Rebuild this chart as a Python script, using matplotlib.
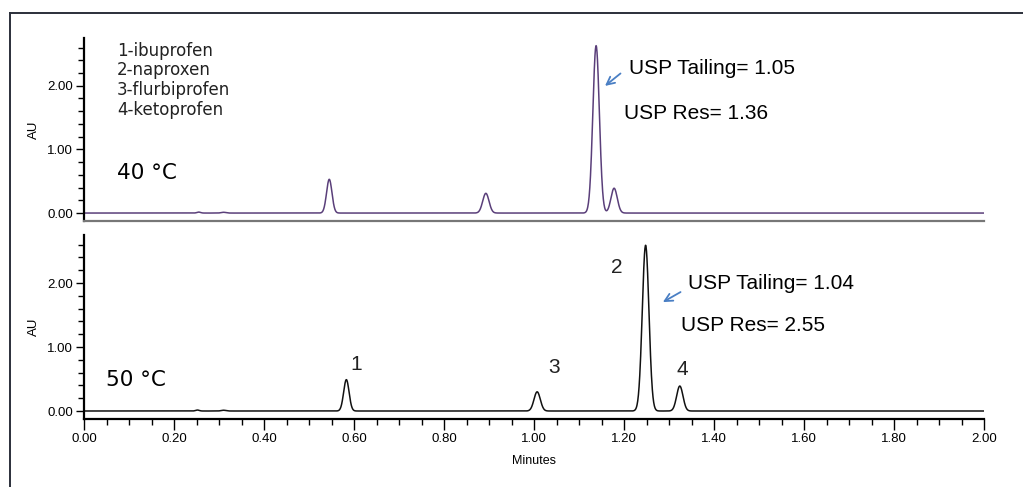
import numpy as np
import matplotlib
matplotlib.use("Agg")
import matplotlib.pyplot as plt
from matplotlib.ticker import MultipleLocator, FormatStrFormatter

# peak tables: retention time (min), height (AU), sigma (min)
rt_40 = [0.255, 0.31, 0.545, 0.893, 1.138, 1.178]
height_40 = [0.015, 0.012, 0.53, 0.31, 2.63, 0.39]
sigma_40 = [0.004, 0.005, 0.006, 0.007, 0.0072, 0.007]

rt_50 = [0.252, 0.31, 0.583, 1.007, 1.248, 1.324]
height_50 = [0.015, 0.012, 0.49, 0.30, 2.59, 0.39]
sigma_50 = [0.004, 0.005, 0.006, 0.007, 0.0074, 0.007]

compounds = ["1-ibuprofen", "2-naproxen", "3-flurbiprofen", "4-ketoprofen"]
peak_ids = ["1", "3", "2", "4"]
tailing_40, res_40 = 1.05, 1.36
tailing_50, res_50 = 1.04, 2.55

t = np.linspace(0, 2.0, 4001)


def trace(rts, heights, sigmas):
    y = np.zeros_like(t)
    for r, h, s in zip(rts, heights, sigmas):
        y += h * np.exp(-0.5 * ((t - r) / s) ** 2)
    return y


fig = plt.figure(figsize=(10.23, 4.87), dpi=100)
plt.rcParams['font.family'] = ['Liberation Sans', 'DejaVu Sans']

# outer frame (only top and left edges fall inside the image)
fig.add_artist(plt.Line2D([10 / 1023, 10 / 1023], [0, 1 - 13 / 487],
                          transform=fig.transFigure, color='#2b2f3a', lw=1.4))
fig.add_artist(plt.Line2D([10 / 1023, 1], [1 - 13 / 487, 1 - 13 / 487],
                          transform=fig.transFigure, color='#2b2f3a', lw=1.4))

ax1 = fig.add_axes([84 / 1023, 1 - 221 / 487, 900 / 1023, 183 / 487])
ax2 = fig.add_axes([84 / 1023, 1 - 419 / 487, 900 / 1023, 184 / 487])

ax1.plot(t, trace(rt_40, height_40, sigma_40), color='#5a3f7a', lw=1.1)
ax2.plot(t, trace(rt_50, height_50, sigma_50), color='#111111', lw=1.1)

for ax in (ax1, ax2):
    ax.set_xlim(0, 2.0)
    ax.set_ylim(-0.125, 2.75)
    ax.spines['top'].set_visible(False)
    ax.spines['right'].set_visible(False)
    ax.spines['left'].set_linewidth(1.6)
    ax.yaxis.set_major_locator(MultipleLocator(1.0))
    ax.yaxis.set_minor_locator(MultipleLocator(0.2))
    ax.yaxis.set_major_formatter(FormatStrFormatter('%.2f'))
    ax.tick_params(axis='y', which='major', length=6, width=1, labelsize=9.5, pad=2)
    ax.tick_params(axis='y', which='minor', length=4, width=1)
    ax.set_ylabel('AU', fontsize=9.5, labelpad=5)

ax1.spines['bottom'].set_color('#777777')
ax1.spines['bottom'].set_linewidth(1.6)
ax1.set_xticks([])

ax2.spines['bottom'].set_linewidth(1.6)
ax2.xaxis.set_major_locator(MultipleLocator(0.2))
ax2.xaxis.set_minor_locator(MultipleLocator(0.05))
ax2.xaxis.set_major_formatter(FormatStrFormatter('%.2f'))
ax2.tick_params(axis='x', which='major', length=8, width=1, labelsize=9.5, pad=2)
ax2.tick_params(axis='x', which='minor', length=4, width=1)
ax2.set_xlabel('Minutes', fontsize=9, labelpad=7)

# compound list
for i, name in enumerate(compounds):
    ax1.text(0.073, 2.55 - i * 0.31, name, fontsize=12, family='DejaVu Sans',
             va='center', ha='left', color='#222222')

ax1.text(0.073, 0.63, '40 °C', fontsize=15.5, family='DejaVu Sans', va='center')
ax2.text(0.05, 0.49, '50 °C', fontsize=15.5, family='DejaVu Sans', va='center')

# peak numbers, 50 °C run (offsets from the apex, in min / AU)
label_offset = {'1': (0.021, 0.24), '3': (0.037, 0.38),
                '2': (-0.064, -0.34), '4': (0.005, 0.26)}
for pid, r, h in zip(peak_ids, rt_50[2:], height_50[2:]):
    dx, dy = label_offset[pid]
    ax2.text(r + dx, h + dy, pid, fontsize=15, va='center', ha='center',
             color='#222222')

# USP annotations
arrow = dict(arrowstyle='->', color='#4a7fc4', lw=1.3, mutation_scale=14)
ax1.annotate('', xy=(1.153, 1.97), xytext=(1.197, 2.22), arrowprops=arrow)
ax1.text(1.212, 2.27, f'USP Tailing= {tailing_40:.2f}', fontsize=15, va='center')
ax1.text(1.2, 1.57, f'USP Res= {res_40:.2f}', fontsize=15, va='center')

ax2.annotate('', xy=(1.281, 1.68), xytext=(1.331, 1.88), arrowprops=arrow)
ax2.text(1.343, 1.99, f'USP Tailing= {tailing_50:.2f}', fontsize=15, va='center')
ax2.text(1.327, 1.33, f'USP Res= {res_50:.2f}', fontsize=15, va='center')

fig.savefig('out.png', dpi=100)
